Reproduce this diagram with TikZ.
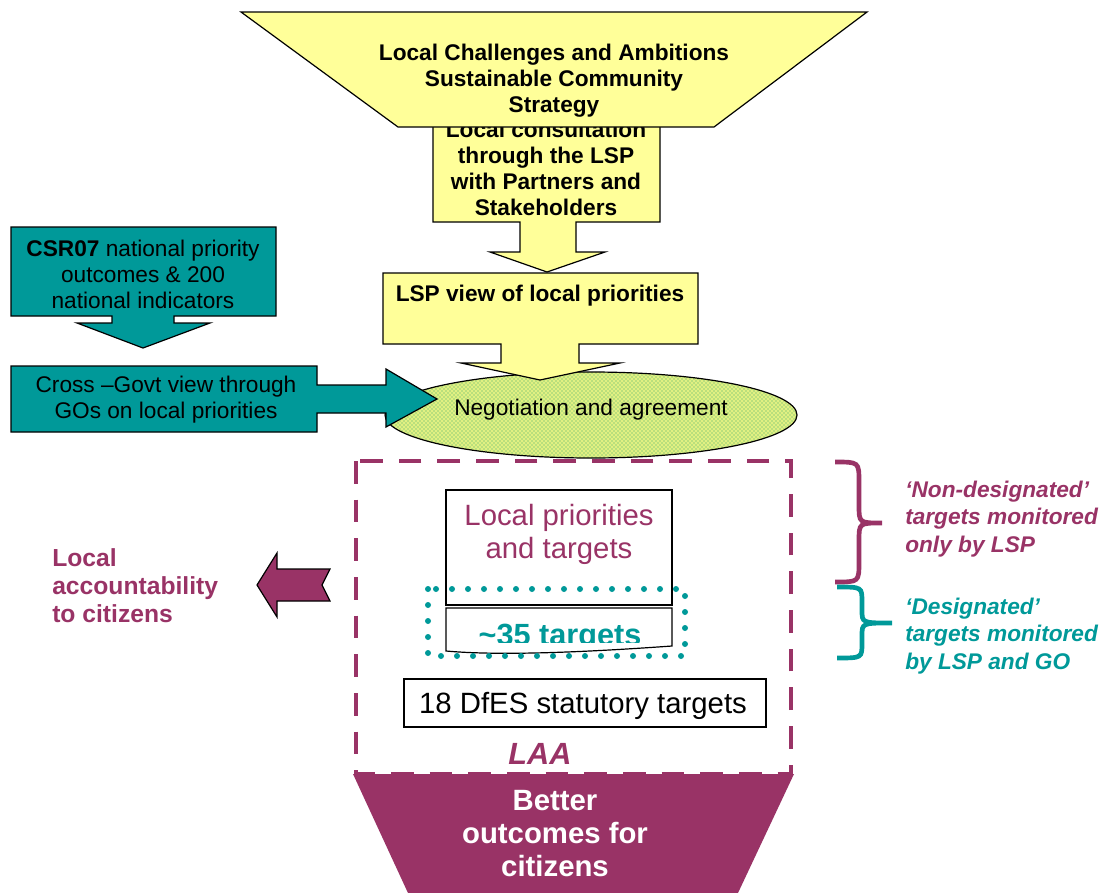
\documentclass[tikz,border=0pt]{standalone}
\usepackage{fontspec}
\setmainfont{Liberation Sans}
\usetikzlibrary{patterns,shapes.geometric,positioning}

\definecolor{lspyellow}{RGB}{255,255,153}
\definecolor{goteal}{RGB}{0,153,153}
\definecolor{laaplum}{RGB}{153,51,102}
\definecolor{talkgreen}{RGB}{225,240,130}
\definecolor{talkdots}{RGB}{60,170,110}

\begin{document}
\begin{tikzpicture}[
	x = 0.75pt, y = -0.75pt,
	yellowshape/.style = {draw=black, line width=0.9pt, fill=lspyellow},
	tealshape/.style = {draw=black, line width=0.9pt, fill=goteal},
	plainbox/.style = {draw=black, line width=0.9pt, fill=white},
	bodytext/.style = {font=\fontsize{17}{19.5}\selectfont, align=center, inner sep=0pt},
	boldtext/.style = {bodytext, font=\fontsize{17}{19.5}\selectfont\bfseries},
	bigtext/.style = {font=\fontsize{22}{24.75}\selectfont, align=center, inner sep=0pt},
	notetext/.style = {font=\fontsize{17}{20.5}\selectfont\bfseries\itshape, align=left, inner sep=0pt, anchor=west}
	]
	\useasboundingbox (0,0) rectangle (1108,893);

	% negotiation ellipse
	\node [ellipse, draw=black, line width=0.9pt, preaction={fill=talkgreen},
		pattern=crosshatch dots, pattern color=talkdots,
		minimum width=309pt, minimum height=64.5pt, inner sep=0pt] (talk) at (591,415) {};
	\node [bodytext] (talktext) at (591,410) {Negotiation and agreement};

	% local consultation box with arrow
	\draw [yellowshape] (433,112) -- (660,112) -- (660,222) -- (576,222) -- (576,252)
		-- (605,252) -- (547,272) -- (490,252) -- (520,252) -- (520,222) -- (433,222) -- cycle;
	\node [boldtext] (consult) at (546,168) {Local consultation\\through the LSP\\with Partners and\\Stakeholders};

	% challenges funnel
	\draw [yellowshape] (241,12) -- (867,12) -- (714,127) -- (398,127) -- cycle;
	\node [boldtext] (challenges) at (554,81) {Local Challenges and Ambitions\\Sustainable Community\\Strategy};

	% LSP view box with arrow
	\draw [yellowshape] (383,273) -- (698,273) -- (698,344) -- (579,344) -- (579,363)
		-- (620,363) -- (540,380) -- (461,363) -- (501,363) -- (501,344) -- (383,344) -- cycle;
	\node [boldtext] (lspview) at (540,296) {LSP view of local priorities};

	% national side
	\draw [tealshape] (11,227) -- (276,227) -- (276,316) -- (174,316) -- (174,323)
		-- (210,323) -- (143,348) -- (77,323) -- (112,323) -- (112,316) -- (11,316) -- cycle;
	\node [bodytext] (csr) at (143,274) {\textbf{CSR07} national priority\\outcomes \& 200\\national indicators};
	\draw [tealshape] (11,366) -- (317,366) -- (317,385) -- (386,385) -- (386,369)
		-- (437,399) -- (386,427) -- (386,413) -- (317,413) -- (317,432) -- (11,432) -- cycle;
	\node [bodytext] (crossgovt) at (166,400) {Cross --Govt view through\\GOs on local priorities};

	% LAA frame
	\draw [laaplum, line width=3pt, dash pattern=on 17pt off 12pt] (356,461) rectangle (791,774);
	\fill [laaplum] (353,774) -- (794,774) -- (738,893) -- (408,893) -- cycle;
	\node [font=\fontsize{22}{24.75}\selectfont\bfseries, text=white, align=center, inner sep=0pt]
		(outcomes) at (555,834) {Better\\outcomes for\\citizens};
	\node [font=\fontsize{23}{26}\selectfont\bfseries\itshape, text=laaplum, inner sep=0pt] (laa) at (540,754) {LAA};

	% targets
	\draw [plainbox] (446,490) rectangle (672,605);
	\node [bigtext, text=laaplum] (localtargets) at (559,534) {Local priorities\\and targets};
	\draw [plainbox] (446,608) -- (672,608) -- (672,646) .. controls (560,654) and (490,655) .. (446,651) -- cycle;
	\begin{scope}
		\clip (446,608) rectangle (672,642);
		\node [font=\fontsize{23}{26}\selectfont\bfseries, text=goteal, inner sep=0pt, anchor=base] (designated) at (560,645) {\textasciitilde 35 targets};
	\end{scope}
	\draw [goteal, line width=4.5pt, line cap=round, dash pattern=on 0pt off 12pt] (428,589) rectangle (685,656);
	\draw [plainbox] (404,679) rectangle (766,727);
	\node [bigtext] (statutory) at (583,706) {18 DfES statutory targets};

	% braces
	\draw [laaplum, line width=3.5pt] (835,462) .. controls (859,462) .. (859,482) -- (859,505)
		.. controls (859,523) .. (882,523) .. controls (859,523) .. (859,541) -- (859,562)
		.. controls (859,582) .. (835,582);
	\draw [goteal, line width=3.5pt] (837,587) .. controls (862,587) .. (862,602) -- (862,610)
		.. controls (862,623) .. (892,623) .. controls (862,623) .. (862,636) -- (862,643)
		.. controls (862,658) .. (837,658);
	\node [notetext, text=laaplum] (nondesig) at (905,519) {`Non-designated'\\targets monitored\\only by LSP};
	\node [notetext, text=goteal] (desig) at (905,636) {`Designated'\\targets monitored\\by LSP and GO};

	% accountability
	\draw [fill=laaplum, line width=0.9pt] (257,585) -- (277,553) -- (277,569) -- (330,569)
		-- (322,585) -- (330,601) -- (277,601) -- (277,617) -- cycle;
	\node [font=\fontsize{18.5}{21}\selectfont\bfseries, text=laaplum, align=left, inner sep=0pt, anchor=west]
		(account) at (52,586) {Local\\accountability\\to citizens};
\end{tikzpicture}
\end{document}
